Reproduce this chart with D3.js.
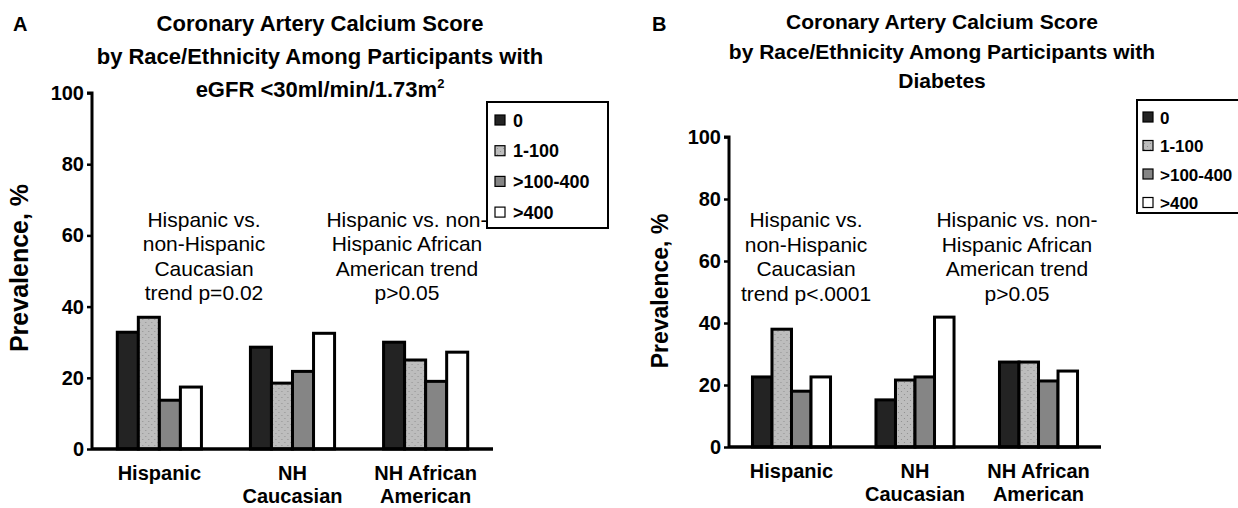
<!DOCTYPE html>
<html>
<head>
<meta charset="utf-8">
<script src="https://cdn.jsdelivr.net/npm/d3@7"></script>
<style>
  body { margin: 0; background: #fff; }
  svg { font-family: "Liberation Sans", Arial, sans-serif; }
</style>
</head>
<body>
<svg id="chart" width="1238" height="508"></svg>
<script>
const groups = ["Hispanic", "NH Caucasian", "NH African American"];
const groupLabels = [["Hispanic"], ["NH", "Caucasian"], ["NH African", "American"]];
const scoreBins = ["0", "1-100", ">100-400", ">400"];
const yTicks = [0, 20, 40, 60, 80, 100];

// panel A: eGFR < 30
const egfrValues = [
    [32.8, 37, 13.7, 17.4],
    [28.6, 18.5, 21.8, 32.5],
    [30, 25, 19, 27.2]
];
// panel B: diabetes
const diabetesValues = [
    [22.6, 38, 18, 22.6],
    [15.2, 21.6, 22.6, 41.9],
    [27.4, 27.4, 21.3, 24.5]
];

const titleA = ["Coronary Artery Calcium Score", "by Race/Ethnicity Among Participants with", "eGFR <30ml/min/1.73m"];
const titleB = ["Coronary Artery Calcium Score", "by Race/Ethnicity Among Participants with", "Diabetes"];
const notesA = [["Hispanic vs.", "non-Hispanic", "Caucasian", "trend p=0.02"], ["Hispanic vs. non-", "Hispanic African", "American trend", "p>0.05"]];
const notesB = [["Hispanic vs.", "non-Hispanic", "Caucasian", "trend p<.0001"], ["Hispanic vs. non-", "Hispanic African", "American trend", "p>0.05"]];

const fills = ["#232323", "url(#dots)", "#858585", "#ffffff"];

const svg = d3.select("#chart");
const defs = svg.append("defs");
const pat = defs.append("pattern").attr("id", "dots").attr("patternUnits", "userSpaceOnUse")
    .attr("width", 6).attr("height", 6);
pat.append("rect").attr("width", 6).attr("height", 6).attr("fill", "#bdbdbd");
pat.append("circle").attr("cx", 1.5).attr("cy", 1.5).attr("r", 0.6).attr("fill", "#8a8a8a");
pat.append("circle").attr("cx", 4.5).attr("cy", 4.5).attr("r", 0.6).attr("fill", "#8a8a8a");

const drawPanel = (cfg) => {
    const g = svg.append("g");
    const y = d3.scaleLinear().domain([0, 100]).range([cfg.y0, cfg.y100]);
    const x0 = d3.scaleBand().domain(groups).range([cfg.axisX, cfg.axisEnd]).paddingInner(0.368).paddingOuter(0.19);
    const x1 = d3.scaleBand().domain(scoreBins).range([0, x0.bandwidth()]);

    // panel letter + title
    g.append("text").attr("x", cfg.letterX).attr("y", 31).attr("font-weight", "bold").attr("font-size", 20).text(cfg.letter);
    cfg.title.forEach((t, i) => {
        const tx = g.append("text").attr("x", cfg.titleX).attr("y", cfg.titleY + i * cfg.titleGap).attr("text-anchor", "middle")
            .attr("font-weight", "bold").attr("font-size", cfg.titleSize).text(t);
        if (cfg.sup && i === 2) tx.append("tspan").attr("dy", -9).attr("font-size", 13).text("2");
    });

    // bars
    const grp = g.selectAll(".grp").data(cfg.values).enter().append("g")
        .attr("transform", (d, i) => `translate(${x0(groups[i])},0)`);
    grp.selectAll("rect").data(d => d).enter().append("rect")
        .attr("x", (d, i) => x1(scoreBins[i]))
        .attr("y", d => y(d))
        .attr("width", x1.bandwidth())
        .attr("height", d => y(0) - y(d))
        .attr("fill", (d, i) => fills[i])
        .attr("stroke", "#000").attr("stroke-width", 3);

    // y axis
    const yAxis = d3.axisLeft(y).tickValues(yTicks).tickSize(5).tickPadding(3);
    const ya = g.append("g").attr("transform", `translate(${cfg.axisX},0)`).call(yAxis);
    ya.select(".domain").attr("stroke-width", 3).attr("d", `M-5,${y(100)}H0V${y(0)}`);
    ya.selectAll(".tick line").attr("stroke-width", 2.5);
    ya.selectAll(".tick text").attr("font-size", 20).attr("font-weight", "bold").attr("font-family", "Liberation Sans, Arial").attr("fill", "#000");

    // x baseline
    g.append("line").attr("x1", cfg.axisX).attr("x2", cfg.axisEnd).attr("y1", y(0)).attr("y2", y(0))
        .attr("stroke", "#000").attr("stroke-width", 3.5);

    // category labels
    groupLabels.forEach((lines, i) => {
        lines.forEach((l, j) => {
            g.append("text").attr("x", x0(groups[i]) + x0.bandwidth() / 2).attr("y", y(0) + 31 + j * 23)
                .attr("text-anchor", "middle").attr("font-weight", "bold").attr("font-size", 20).text(l);
        });
    });

    // y label
    g.append("text").attr("transform", `translate(${cfg.yLabelX},${cfg.yLabelY}) rotate(-90)`)
        .attr("text-anchor", "middle").attr("font-weight", "bold").attr("font-size", cfg.yLabelSize).text("Prevalence, %");

    // annotations
    cfg.notes.forEach((lines, k) => {
        lines.forEach((l, j) => {
            g.append("text").attr("x", cfg.noteX[k]).attr("y", cfg.noteY + j * 24.5).attr("text-anchor", "middle")
                .attr("font-size", 21).text(l);
        });
    });

    // legend
    const L = cfg.legend;
    const lg = g.append("g").attr("transform", `translate(${L.x},${L.y})`);
    lg.append("rect").attr("width", L.w).attr("height", L.h)
        .attr("fill", "#fff").attr("stroke", "#000").attr("stroke-width", 2);
    scoreBins.forEach((b, i) => {
        const yy = L.first + i * L.step;
        lg.append("rect").attr("x", L.sq).attr("y", yy - 5).attr("width", 10).attr("height", 10)
            .attr("fill", fills[i]).attr("stroke", "#000").attr("stroke-width", 1.2);
        lg.append("text").attr("x", L.tx).attr("y", yy + 6.5).attr("font-weight", "bold").attr("font-size", L.size).text(b);
    });
};

drawPanel({
    letter: "A", letterX: 13, titleX: 320, titleY: 31, titleGap: 33, titleSize: 22, title: titleA, sup: true,
    axisX: 92, axisEnd: 493, y0: 449, y100: 93,
    values: egfrValues, notes: notesA, noteX: [204, 407], noteY: 226.5,
    yLabelX: 28, yLabelY: 268, yLabelSize: 25,
    legend: { x: 487, y: 102, w: 121, h: 126, first: 18, step: 30.7, sq: 8, tx: 26, size: 18 }
});

drawPanel({
    letter: "B", letterX: 652, titleX: 942, titleY: 29, titleGap: 29.5, titleSize: 21, title: titleB, sup: false,
    axisX: 729, axisEnd: 1101, y0: 447, y100: 137,
    values: diabetesValues, notes: notesB, noteX: [806, 1017], noteY: 227,
    yLabelX: 668, yLabelY: 291, yLabelSize: 23,
    legend: { x: 1137, y: 100, w: 110, h: 113, first: 17, step: 28.5, sq: 6, tx: 23, size: 17 }
});
</script>
</body>
</html>
